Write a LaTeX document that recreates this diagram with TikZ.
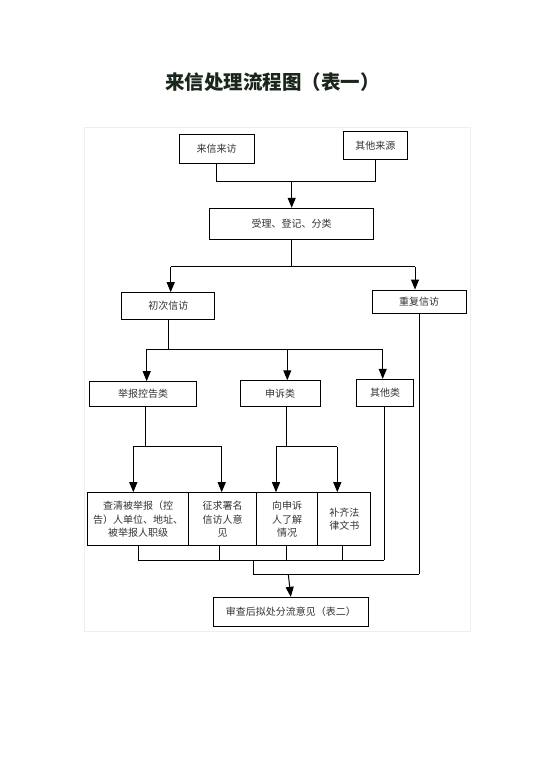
\documentclass[tikz,border=0pt]{standalone}
\usepackage{fontspec}
\newfontfamily\cjk{Noto Sans CJK SC}
\usetikzlibrary{arrows.meta}
\definecolor{framec}{HTML}{E6F2EA}
\definecolor{titlec}{HTML}{1A261C}
\definecolor{txtc}{HTML}{333333}
\tikzset{
  box/.style={draw=black, line width=1pt, inner sep=0pt, align=center,
    font=\cjk\fontsize{10}{13.5}\selectfont, text=txtc},
  ln/.style={line width=1pt},
  arr/.style={line width=1pt, -{Triangle[length=10pt,width=8pt]}},
}
\begin{document}
\begin{tikzpicture}[x=1pt,y=-1pt]
\useasboundingbox (0,0) rectangle (554,783);
\draw[framec, line width=0.8pt] (84,127) rectangle (470,631);
\node[font=\cjk\bfseries\fontsize{19.5}{22}\selectfont, text=titlec] (title) at (272.5,82.5) {来信处理流程图（表一）};

\node[box, minimum width=74.7pt, minimum height=29.3pt] (laixin) at (216.7,148.7) {来信来访};
\node[box, minimum width=64pt, minimum height=27.6pt] (qita) at (375.3,145.5) {其他来源};
\node[box, minimum width=164pt, minimum height=31pt] (shouli) at (291.7,223.8) {受理、登记、分类};
\node[box, minimum width=93.3pt, minimum height=26.6pt] (chuci) at (168.3,306) {初次信访};
\node[box, minimum width=93.7pt, minimum height=23.3pt] (chongfu) at (419.2,301.7) {重复信访};
\node[box, minimum width=107.4pt, minimum height=25pt] (jubao) at (143,394.2) {举报控告类};
\node[box, minimum width=80pt, minimum height=25.3pt] (shensu) at (280,393.4) {申诉类};
\node[box, minimum width=56.6pt, minimum height=26.7pt] (qitalei) at (385,392.7) {其他类};
\node[box, minimum width=101.4pt, minimum height=53pt] (b1) at (138,519.2) {查清被举报（控\\告）人单位、地址、\\被举报人职级};
\node[box, minimum width=68pt, minimum height=53pt] (b2) at (222.7,519.2) {征求署名\\信访人意\\见};
\node[box, minimum width=61pt, minimum height=53pt] (b3) at (287.2,519.2) {向申诉\\人了解\\情况};
\node[box, minimum width=53.3pt, minimum height=53pt] (b4) at (344.3,519.2) {补齐法\\律文书};
\node[box, minimum width=155pt, minimum height=28.7pt] (final) at (290.8,611.7) {审查后拟处分流意见（表二）};

% level 1
\coordinate (j1) at (291.7,181.7);
\draw[ln] (laixin.south) |- (j1) -| (qita.south);
\draw[arr] (j1) -- (shouli.north);
% level 2
\coordinate (j2) at (291.7,266.7);
\coordinate (j2l) at (170.7,266.7);
\coordinate (j2r) at (415,266.7);
\draw[ln] (shouli.south) -- (j2);
\draw[ln] (j2l) -- (j2r);
\draw[arr] (j2l) -- (j2l |- chuci.north);
\draw[arr] (j2r) -- (j2r |- chongfu.north);
% level 3
\coordinate (j3) at (168.3,349.3);
\coordinate (j3a) at (146.7,349.3);
\coordinate (j3b) at (287.3,349.3);
\coordinate (j3c) at (382.7,349.3);
\draw[ln] (chuci.south) -- (j3);
\draw[ln] (j3a) -- (j3c);
\draw[arr] (j3a) -- (j3a |- jubao.north);
\draw[arr] (j3b) -- (j3b |- shensu.north);
\draw[arr] (j3c) -- (j3c |- qitalei.north);
% level 4
\coordinate (k1) at (145.7,446.7);
\coordinate (k1a) at (133.3,446.7);
\coordinate (k1b) at (221.7,446.7);
\draw[ln] (k1 |- jubao.south) -- (k1);
\draw[ln] (k1a) -- (k1b);
\draw[arr] (k1a) -- (k1a |- b1.north);
\draw[arr] (k1b) -- (k1b |- b2.north);
\coordinate (k2) at (286.7,446.7);
\coordinate (k2a) at (276,446.7);
\coordinate (k2b) at (337.3,446.7);
\draw[ln] (k2 |- shensu.south) -- (k2);
\draw[ln] (k2a) -- (k2b);
\draw[arr] (k2a) -- (k2a |- b3.north);
\draw[arr] (k2b) -- (k2b |- b4.north);
% collection
\coordinate (m1) at (138.3,560);
\coordinate (m2) at (219.3,560);
\coordinate (m3) at (286.7,560);
\coordinate (m4) at (342.7,560);
\coordinate (m5) at (384.3,560);
\draw[ln] (m1 |- b1.south) -- (m1);
\draw[ln] (m2 |- b2.south) -- (m2);
\draw[ln] (m3 |- b3.south) -- (m3);
\draw[ln] (m4 |- b4.south) -- (m4);
\draw[ln] (m5 |- qitalei.south) -- (m5);
\draw[ln] (m1) -- (m5);
\coordinate (n1) at (253.3,560);
\coordinate (n2) at (253.3,574.3);
\coordinate (n3) at (419,574.3);
\coordinate (n4) at (288.3,574.3);
\draw[ln] (n1) -- (n2) -- (n3);
\draw[ln] (n3 |- chongfu.south) -- (n3);
\draw[arr] (n4) -- (final.north);
\end{tikzpicture}
\end{document}
